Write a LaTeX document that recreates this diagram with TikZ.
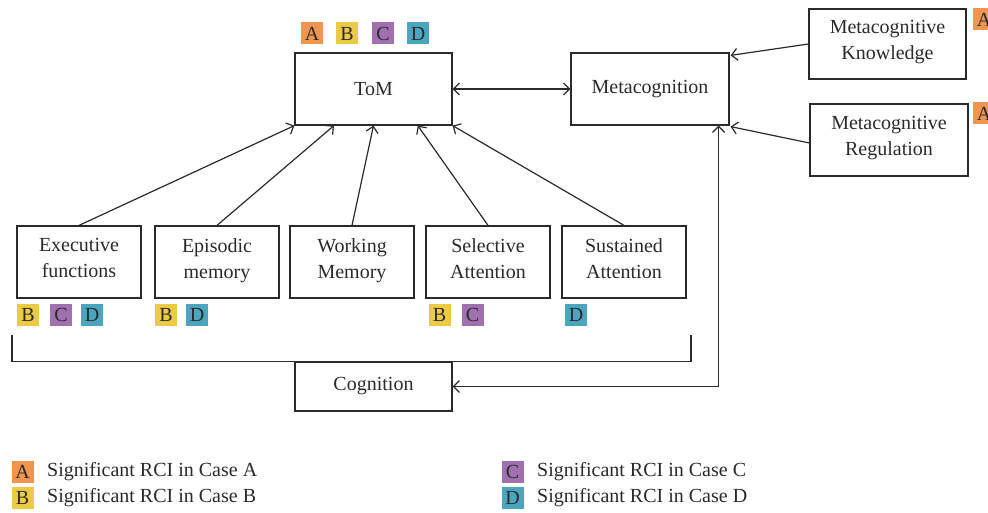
\documentclass[tikz,border=0pt]{standalone}
\usepackage{fontspec}
\setmainfont{Liberation Serif}
\usetikzlibrary{arrows.meta,calc}
\definecolor{caseA}{HTML}{F0954F}
\definecolor{caseB}{HTML}{EBCB45}
\definecolor{caseC}{HTML}{A070B0}
\definecolor{caseD}{HTML}{4BA5BE}
\definecolor{ink}{HTML}{2A2A2A}
\tikzset{
  box/.style={draw=ink, line width=1.2pt, align=center, text=ink,
    minimum width=#1, inner sep=0pt},
  box/.default=157pt,
  badge/.style={fill=#1, minimum size=22pt, inner sep=0pt, text=ink},
  legend/.style={anchor=west, text=ink, inner sep=0pt},
  link/.style={draw=ink, line width=1.2pt, >={Straight Barb[length=6pt,width=12pt]}}
}
\begin{document}
\begin{tikzpicture}[x=1pt, y=-1pt, font=\fontsize{20}{26}\selectfont]
      \useasboundingbox (0,0) rectangle (988,513);
      \draw
        (373.5,89) node[box, minimum height=72pt] (tom){ToM}
        (650,89) node[box=158pt, minimum height=72pt] (meta){Metacognition}
        (887.5,44) node[box, minimum height=70pt] (know){Metacognitive\\Knowledge\strut}
        (889,140) node[box=158pt, minimum height=72pt] (reg){Metacognitive\\Regulation\strut}
        (79,262) node[box=124pt, minimum height=72pt] (exec){Executive\\functions\strut}
        (217,262) node[box=124pt, minimum height=72pt] (epis){Episodic\\memory\strut}
        (352,262) node[box=124pt, minimum height=72pt] (work){Working\\Memory\strut}
        (488,262) node[box=124pt, minimum height=72pt] (sel){Selective\\Attention\strut}
        (624,262) node[box=124pt, minimum height=72pt] (sus){Sustained\\Attention\strut}
        (373.5,386.5) node[box, minimum height=49pt] (cog){Cognition};
      \draw
        (312,33.5) node[badge=caseA] (tomA){A}
        (347,33.5) node[badge=caseB] (tomB){B}
        (383,33.5) node[badge=caseC] (tomC){C}
        (418,33.5) node[badge=caseD] (tomD){D}
        (984,19.5) node[badge=caseA] (knowA){A}
        (984,113.5) node[badge=caseA] (regA){A}
        (28,314.5) node[badge=caseB] (execB){B}
        (61,314.5) node[badge=caseC] (execC){C}
        (92,314.5) node[badge=caseD] (execD){D}
        (166,314.5) node[badge=caseB] (episB){B}
        (197,314.5) node[badge=caseD] (episD){D}
        (439.5,314.5) node[badge=caseB] (selB){B}
        (472.5,314.5) node[badge=caseC] (selC){C}
        (576,314.5) node[badge=caseD] (susD){D};
      \draw
        (22.5,471.5) node[badge=caseA] (keyA){A}
        (22.5,498) node[badge=caseB] (keyB){B}
        (512.5,471.5) node[badge=caseC] (keyC){C}
        (512.5,498) node[badge=caseD] (keyD){D}
        (47,471.5) node[legend] (txtA){Significant RCI in Case A}
        (47,498) node[legend] (txtB){Significant RCI in Case B}
        (537,471.5) node[legend] (txtC){Significant RCI in Case C}
        (537,498) node[legend] (txtD){Significant RCI in Case D};
      \coordinate (brL) at (12,335);
      \coordinate (brR) at (691,335);
      \coordinate (metaFoot) at ($(meta.south east)+(-11,0)$);
      \begin{scope}[link]
        \draw[->] (exec.north) to (tom.south west);
        \draw[->] (epis.north) to ($(tom.south west)!0.25!(tom.south east)$);
        \draw[->] (work.north) to (tom.south);
        \draw[->] (sel.north) to ($(tom.south west)!0.78!(tom.south east)$);
        \draw[->] (sus.north) to (tom.south east);
        \draw[<->] (tom.east) to (meta.west);
        \draw[->] (know.west) to ($(meta.north east)+(1,3)$);
        \draw[->] ($(reg.west)+(0,3)$) to ($(meta.south east)+(1,1)$);
        \draw[<->] (cog.east) -| (metaFoot);
        \draw[-] (brL) -- (brL |- cog.north) -- (brR |- cog.north) -- (brR);
      \end{scope}
    \end{tikzpicture}
\end{document}
